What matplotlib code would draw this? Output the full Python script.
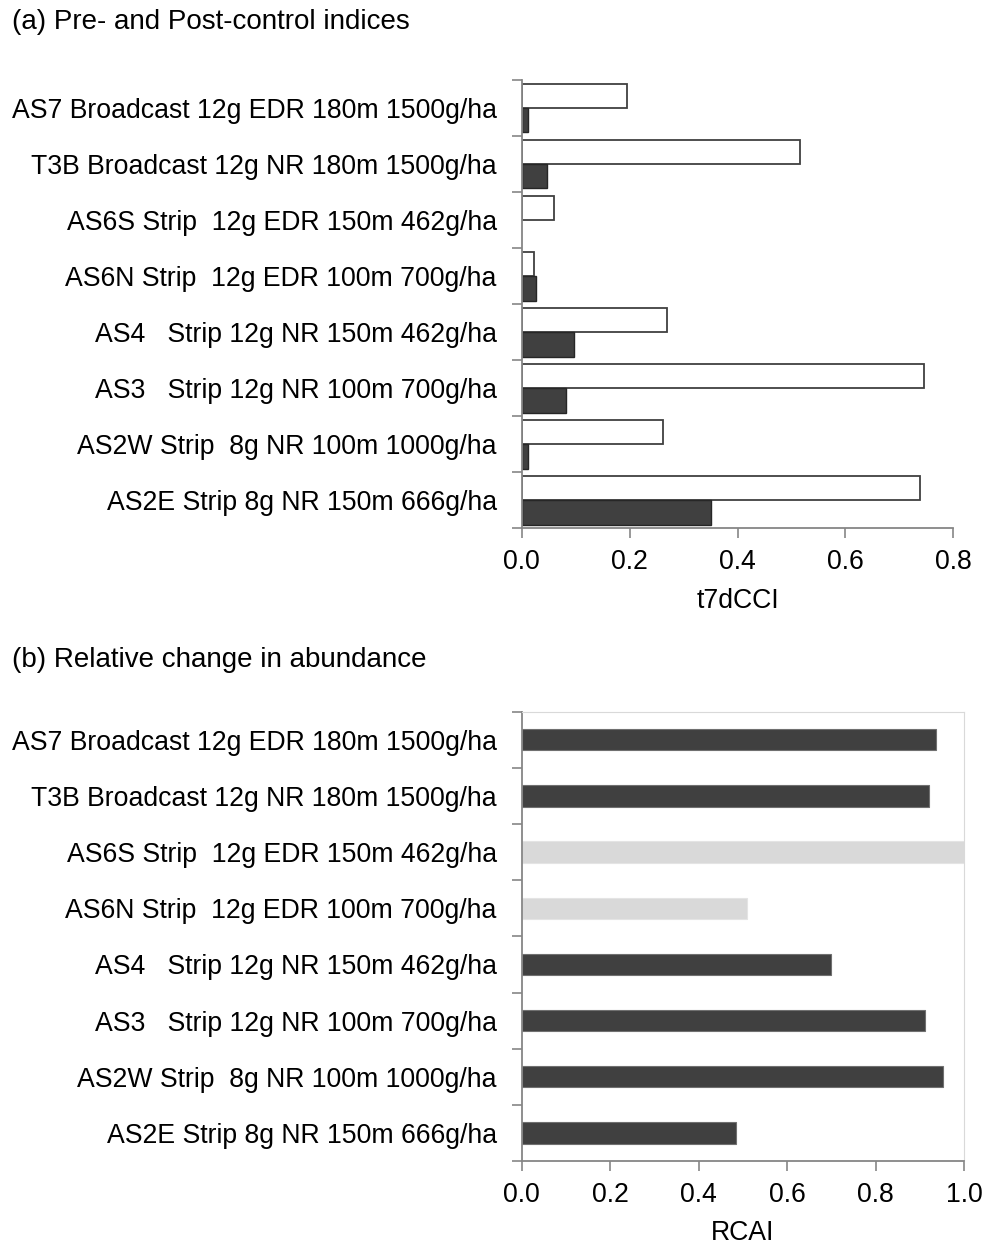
import matplotlib.pyplot as plt
from matplotlib.ticker import FixedLocator

plt.rcParams['font.family'] = ['Liberation Sans', 'DejaVu Sans']

sites = ["AS7 Broadcast 12g EDR 180m 1500g/ha",
         "T3B Broadcast 12g NR 180m 1500g/ha",
         "AS6S Strip  12g EDR 150m 462g/ha",
         "AS6N Strip  12g EDR 100m 700g/ha",
         "AS4   Strip 12g NR 150m 462g/ha",
         "AS3   Strip 12g NR 100m 700g/ha",
         "AS2W Strip  8g NR 100m 1000g/ha",
         "AS2E Strip 8g NR 150m 666g/ha"]

# (a) pre-control (white) and post-control (dark) t7dCCI
pre_cci = [0.195, 0.516, 0.059, 0.023, 0.269, 0.746, 0.261, 0.739]
post_cci = [0.012, 0.046, 0.0, 0.027, 0.096, 0.082, 0.012, 0.350]

# (b) RCAI, light bars for the EDR strip sites
rcai = [0.937, 0.920, 1.0, 0.509, 0.700, 0.912, 0.952, 0.485]
rcai_light = [False, False, True, True, False, False, False, False]

xticks_a = [0.0, 0.2, 0.4, 0.6, 0.8]
xticks_b = [0.0, 0.2, 0.4, 0.6, 0.8, 1.0]

dark = '#404040'
spine_c = '#868686'
fs = 19.2
fs_title = 20

fig = plt.figure(figsize=(9.89, 12.44), dpi=100)
ax1 = fig.add_axes([0.5275, 0.5753, 0.4365, 0.3604])
ax2 = fig.add_axes([0.5275, 0.0667, 0.4472, 0.3612])

pos = list(range(len(sites)))
h = 0.435
ax1.barh([p - h / 2 for p in pos], pre_cci, height=h, color='white',
         edgecolor=dark, linewidth=1.3)
ax1.barh([p + h / 2 for p in pos], post_cci, height=h, color=dark,
         edgecolor='#262626', linewidth=[1.0 if v > 0 else 0 for v in post_cci])
ax1.set_xlim(0, 0.8)
ax1.set_xticks(xticks_a)
ax1.set_xticklabels([f"{v:.1f}" for v in xticks_a])
ax1.set_xlabel("t7dCCI", fontsize=fs, labelpad=9)
ax1.spines['top'].set_visible(False)
ax1.spines['right'].set_visible(False)

colors_b = ['#d9d9d9' if lt else dark for lt in rcai_light]
edges_b = ['#e4e4e4' if lt else '#707070' for lt in rcai_light]
ax2.barh(pos, rcai, height=0.38, color=colors_b, edgecolor=edges_b, linewidth=0.8)
ax2.set_xlim(0, 1.0)
ax2.set_xticks(xticks_b)
ax2.set_xticklabels([f"{v:.1f}" for v in xticks_b])
ax2.set_xlabel("RCAI", fontsize=fs, labelpad=9)
ax2.spines['top'].set_color('#d9d9d9')
ax2.spines['right'].set_color('#d9d9d9')

for ax in (ax1, ax2):
    ax.set_ylim(len(sites) - 0.5, -0.5)
    ax.yaxis.set_major_locator(FixedLocator([p - 0.5 for p in range(len(sites) + 1)]))
    ax.yaxis.set_major_formatter(plt.NullFormatter())
    ax.yaxis.set_minor_locator(FixedLocator(pos))
    ax.set_yticklabels(sites, minor=True)
    ax.tick_params(axis='y', which='major', length=7, color=spine_c, width=1.2)
    ax.tick_params(axis='y', which='minor', length=0, pad=18, labelsize=fs)
    ax.tick_params(axis='x', length=7, color=spine_c, width=1.2, pad=8, labelsize=fs)
    ax.spines['left'].set_color(spine_c)
    ax.spines['bottom'].set_color(spine_c)
    ax.spines['left'].set_linewidth(1.3)
    ax.spines['bottom'].set_linewidth(1.3)

fig.text(0.012, 1 - 22 / 1244, "(a) Pre- and Post-control indices",
         fontsize=fs_title, va='center', ha='left')
fig.text(0.012, 1 - 660 / 1244, "(b) Relative change in abundance",
         fontsize=fs_title, va='center', ha='left')

fig.savefig("out.png", dpi=100)
